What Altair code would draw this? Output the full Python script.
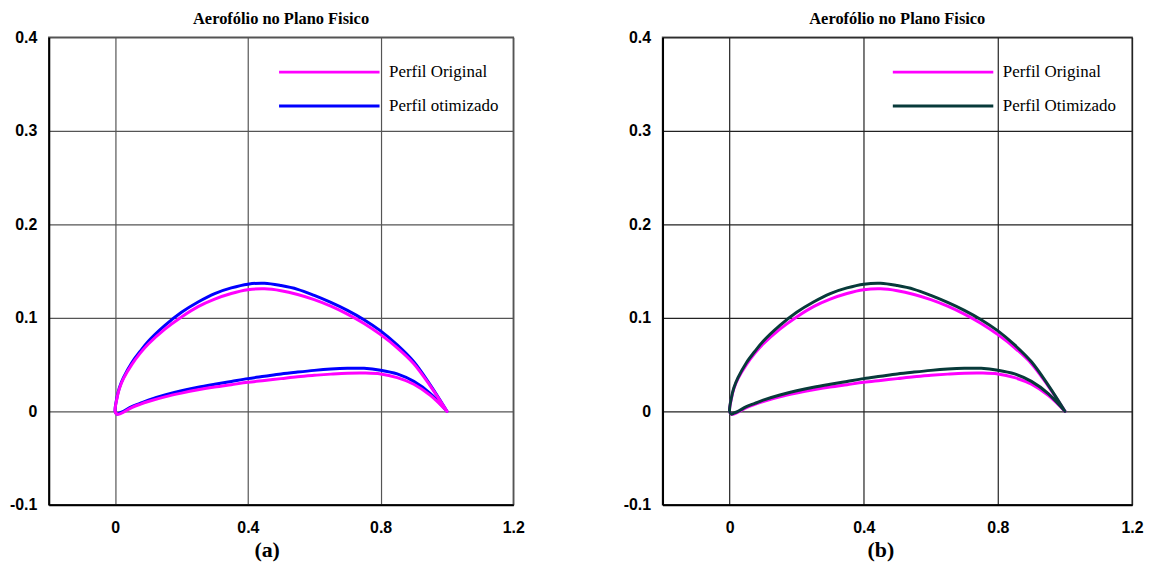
import altair as alt
import pandas as pd

# ---- data ----
upper_x = [1.0, 0.95, 0.9, 0.85, 0.8, 0.75, 0.7, 0.65, 0.6, 0.55, 0.5, 0.45, 0.4,
           0.35, 0.3, 0.25, 0.2, 0.15, 0.1, 0.075, 0.05, 0.025, 0.0125, 0.005, 0.0]
orig_upper_y = [0.0, 0.027, 0.051, 0.068, 0.082, 0.094, 0.104, 0.1125, 0.1195, 0.1250, 0.1290,
                0.131, 0.130, 0.126, 0.120, 0.112, 0.101, 0.088, 0.072, 0.062, 0.050,
                0.035, 0.024, 0.013, 0.0]
otim_upper_y = [0.0, 0.028, 0.053, 0.071, 0.086, 0.098, 0.108, 0.1165, 0.1240, 0.1305, 0.1345,
                0.137, 0.136, 0.132, 0.126, 0.117, 0.106, 0.092, 0.075, 0.064, 0.052,
                0.036, 0.025, 0.014, 0.0]
lower_x = [0.005, 0.0125, 0.025, 0.05, 0.075, 0.1, 0.15, 0.2, 0.25, 0.3, 0.35, 0.4, 0.45,
           0.5, 0.55, 0.6, 0.65, 0.7, 0.75, 0.8, 0.85, 0.9, 0.95, 1.0]
orig_lower_y = [-0.003, -0.003, -0.001, 0.004, 0.0075, 0.0105, 0.0155, 0.0195, 0.023, 0.026,
                0.0285, 0.031, 0.033, 0.035, 0.037, 0.0385, 0.0398, 0.0408, 0.041, 0.040,
                0.036, 0.029, 0.017, 0.0]
otim_lower_y = [-0.003, -0.002, 0.000, 0.005, 0.0085, 0.012, 0.0175, 0.022, 0.0258, 0.029,
                0.032, 0.035, 0.0375, 0.040, 0.042, 0.0438, 0.0452, 0.046, 0.046, 0.044,
                0.040, 0.032, 0.019, 0.0]

x_ticks = [0, 0.4, 0.8, 1.2]
y_ticks = [-0.1, 0, 0.1, 0.2, 0.3, 0.4]

names_a = ["Perfil Original", "Perfil otimizado"]
colors_a = ["#ff00ff", "#0000ff"]
names_b = ["Perfil Original", "Perfil Otimizado"]
colors_b = ["#ff00ff", "#083a3a"]
chart_title = "Aerofólio no Plano Fisico"


def contour(name, uy, ly):
    xs = upper_x + lower_x
    ys = uy + ly
    return pd.DataFrame({"serie": name, "x": xs, "y": ys, "i": list(range(len(xs)))})


def panel(names, colors, top, sub, grid_color, width):
    df = pd.concat([contour(names[0], orig_upper_y, orig_lower_y),
                    contour(names[1], otim_upper_y, otim_lower_y)], ignore_index=True)
    color = alt.Color(
        "serie:N",
        scale=alt.Scale(domain=names, range=colors),
        legend=alt.Legend(
            orient="none", legendX=230, legendY=25, title=None, direction="vertical",
            symbolType="stroke", symbolSize=10201, symbolStrokeWidth=3,
            labelFont="Liberation Serif", labelFontSize=17, labelColor="black",
            labelOffset=8, padding=0, rowPadding=14, clipHeight=20,
        ),
    )
    base = alt.Chart(df).encode(
        x=alt.X("x:Q", scale=alt.Scale(domain=[-0.2, 1.2], nice=False, zero=False),
                axis=alt.Axis(values=x_ticks, title=sub, labelFlush=False,
                              labelExpr="'' + round(datum.value*10)/10",
                              labelPadding=15, gridColor=grid_color,
                              titleFont="Liberation Serif", titleFontWeight="bold",
                              titleFontSize=22, titleColor="black", titleX=219, titleY=45,
                              titleBaseline="middle", titleAlign="center")),
        y=alt.Y("y:Q", scale=alt.Scale(domain=[-0.1, 0.4], nice=False, zero=False),
                axis=alt.Axis(values=y_ticks, title=None, labelPadding=12,
                              labelExpr="'' + round(datum.value*10)/10",
                              gridColor=grid_color)),
        color=color,
        order="i:Q",
    )
    bottom = [n for n in names if n != top][0]
    style = dict(strokeWidth=3, strokeJoin="round", strokeCap="round", interpolate="catmull-rom")
    l1 = base.transform_filter(alt.datum.serie == bottom).mark_line(**style)
    l2 = base.transform_filter(alt.datum.serie == top).mark_line(**style)
    return alt.layer(l1, l2).properties(
        width=width, height=470,
        title=alt.Title(chart_title, font="Liberation Serif", fontSize=16.5,
                        fontWeight="bold", color="black", offset=2, anchor="middle"),
    )


left = panel(names_a, colors_a, "Perfil Original", "(a)", "#555555", 467)
right = panel(names_b, colors_b, "Perfil Otimizado", "(b)", "#222222", 472)

chart = (
    alt.hconcat(left, right, spacing=97)
    .resolve_scale(color="independent")
    .resolve_legend(color="independent")
    .properties(padding=0)
    .configure_view(stroke="#555555", strokeWidth=1.5)
    .configure_axis(labelFont="Liberation Sans", labelFontWeight="bold", labelFontSize=16,
                    labelColor="black", ticks=False, tickSize=0, domainColor="black",
                    domainWidth=2, grid=True, gridWidth=1.2, labelOverlap=False)
)

chart.save("out.html", embed_options={"renderer": "svg", "actions": False})
